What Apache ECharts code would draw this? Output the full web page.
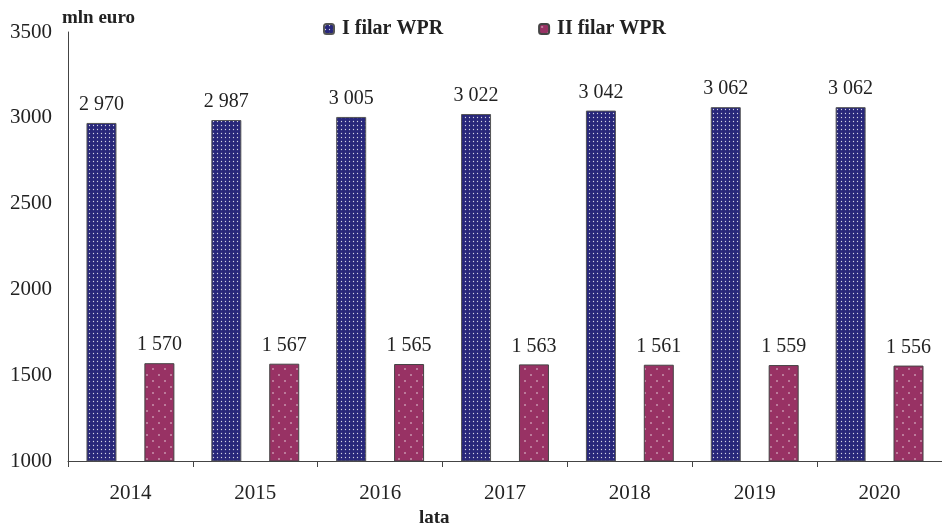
<!DOCTYPE html>
<html><head><meta charset="utf-8">
<script src="https://cdn.jsdelivr.net/npm/echarts@6/dist/echarts.min.js"></script>
<style>html,body{margin:0;padding:0;background:#fff}#c{width:942px;height:531px}</style>
</head><body><div id="c"></div>
<script>
const categories = ['2014','2015','2016','2017','2018','2019','2020'];
const seriesNames = ['I filar WPR','II filar WPR'];
const filar1 = [2970, 2987, 3005, 3022, 3042, 3062, 3062];
const filar2 = [1570, 1567, 1565, 1563, 1561, 1559, 1556];
const yTicks = {min: 1000, max: 3500, step: 500};

function pattern(bg, size, dots, r) {
  const c = document.createElement('canvas');
  c.width = size; c.height = size;
  const g = c.getContext('2d');
  g.fillStyle = bg; g.fillRect(0,0,size,size);
  g.fillStyle = 'rgba(255,255,255,0.8)';
  dots.forEach(d => { g.beginPath(); g.arc(d[0], d[1], r, 0, Math.PI*2); g.fill(); });
  return c;
}
const blueP = pattern('#28277a', 4, [[1.5,1.5]], 0.65);
const pinkP = pattern('#983264', 12, [[3,3],[9,9]], 0.8);

const fmt = v => { const s = String(v); return s.length > 3 ? s.slice(0, s.length-3) + ' ' + s.slice(-3) : s; };
const font = 'Liberation Serif';
const chart = echarts.init(document.getElementById('c'));
chart.setOption({
  animation: false,
  textStyle: {fontFamily: font},
  legend: {
    top: 14, left: 318, itemGap: 95, itemWidth: 10, itemHeight: 10,
    textStyle: {fontFamily: font, fontWeight: 'bold', fontSize: 20, color: '#222', padding: [0,0,0,3]},
    data: seriesNames
  },
  grid: {left: 68, right: 0, top: 32, bottom: 70},
  graphic: [
    {type: 'text', left: 62, top: 9, style: {text: 'mln euro', font: 'bold 19px "Liberation Serif"', fill: '#222'}},
    {type: 'text', left: 419, top: 509, style: {text: 'lata', font: 'bold 19px "Liberation Serif"', fill: '#222'}}
  ],
  xAxis: {
    type: 'category', data: categories,
    axisLine: {lineStyle: {color: '#444', width: 1}},
    axisTick: {show: true, length: 6, lineStyle: {color: '#444'}},
    axisLabel: {fontFamily: font, fontSize: 21, color: '#222', margin: 22}
  },
  yAxis: {
    type: 'value', min: yTicks.min, max: yTicks.max, interval: yTicks.step,
    axisLine: {show: true, lineStyle: {color: '#444', width: 1}},
    axisTick: {show: false},
    splitLine: {show: false},
    axisLabel: {fontFamily: font, fontSize: 21, color: '#222', margin: 16, formatter: v => String(v)}
  },
  series: [
    {name: seriesNames[0], type: 'bar', data: filar1, barWidth: 30, barGap: '93%',
     itemStyle: {color: {image: blueP, repeat: 'repeat'}, borderColor: '#555', borderWidth: 1},
     label: {show: true, position: 'top', distance: 8, fontFamily: font, fontSize: 20, color: '#222', formatter: p => fmt(p.value)}},
    {name: seriesNames[1], type: 'bar', data: filar2, barWidth: 30,
     itemStyle: {color: {image: pinkP, repeat: 'repeat'}, borderColor: '#444', borderWidth: 1},
     label: {show: true, position: 'top', distance: 8, fontFamily: font, fontSize: 20, color: '#222', formatter: p => fmt(p.value)}}
  ]
});
</script></body></html>
